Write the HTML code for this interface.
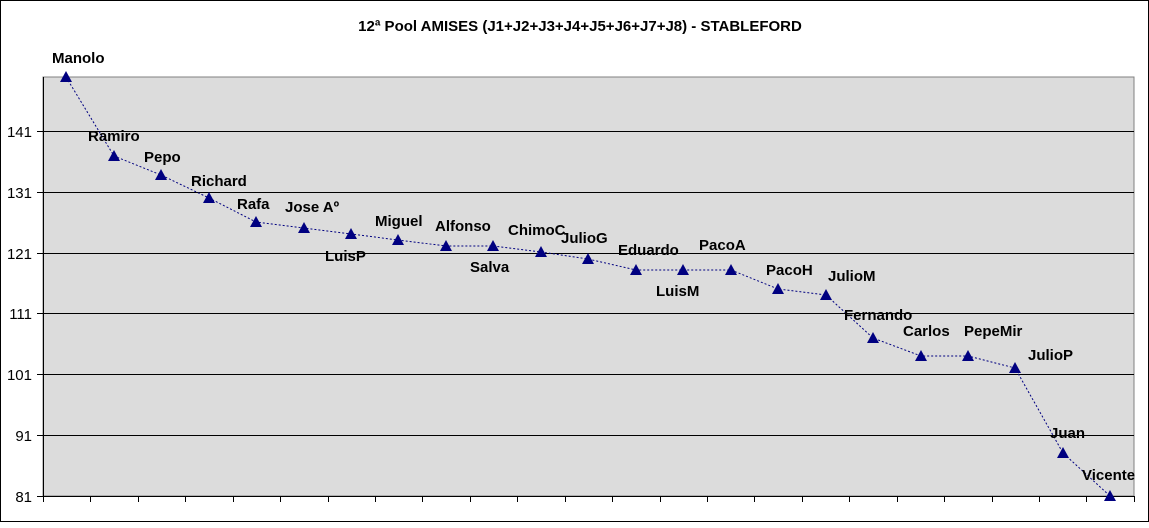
<!DOCTYPE html><html><head><style>body{margin:0}svg text{font-family:"Liberation Sans",Arial,sans-serif}</style></head><body>
<svg width="1149" height="523" xmlns="http://www.w3.org/2000/svg">
<rect x="0.5" y="0.5" width="1148" height="521" fill="#fff" stroke="#000"/>
<rect x="43" y="77" width="1091" height="419" fill="#dcdcdc" stroke="#808080"/>
<g stroke="#000" stroke-width="1">
<line x1="37" y1="131.5" x2="1134" y2="131.5"/><line x1="37" y1="192.5" x2="1134" y2="192.5"/><line x1="37" y1="253.5" x2="1134" y2="253.5"/><line x1="37" y1="313.5" x2="1134" y2="313.5"/><line x1="37" y1="374.5" x2="1134" y2="374.5"/><line x1="37" y1="435.5" x2="1134" y2="435.5"/><line x1="37" y1="496.5" x2="1134" y2="496.5"/>
<line x1="43.5" y1="77" x2="43.5" y2="496"/>
<path d="M43.5 496v6M90.5 496v6M138.5 496v6M185.5 496v6M233.5 496v6M280.5 496v6M328.5 496v6M375.5 496v6M422.5 496v6M470.5 496v6M517.5 496v6M565.5 496v6M612.5 496v6M660.5 496v6M707.5 496v6M754.5 496v6M802.5 496v6M849.5 496v6M897.5 496v6M944.5 496v6M992.5 496v6M1039.5 496v6M1086.5 496v6M1134.5 496v6"/>
</g>
<g font-size="15" text-anchor="end" fill="#000">
<text x="32" y="137">141</text><text x="32" y="198">131</text><text x="32" y="259">121</text><text x="32" y="319">111</text><text x="32" y="380">101</text><text x="32" y="441">91</text><text x="32" y="502">81</text>
</g>
<text x="580" y="31" font-size="15" font-weight="bold" text-anchor="middle">12ª Pool AMISES (J1+J2+J3+J4+J5+J6+J7+J8)  - STABLEFORD</text>
<polyline fill="none" stroke="#000080" stroke-dasharray="2,2" points="66,77 114,156 161,175 209,198 256,222 304,228 351,234 398,240 446,246 493,246 541,252 588,259 636,270 683,270 731,270 778,289 826,295 873,338 921,356 968,356 1015,368 1063,453 1110,496"/>
<g fill="#000080">
<polygon points="60,82 72,82 66,71"/><polygon points="108,161 120,161 114,150"/><polygon points="155,180 167,180 161,169"/><polygon points="203,203 215,203 209,192"/><polygon points="250,227 262,227 256,216"/><polygon points="298,233 310,233 304,222"/><polygon points="345,239 357,239 351,228"/><polygon points="392,245 404,245 398,234"/><polygon points="440,251 452,251 446,240"/><polygon points="487,251 499,251 493,240"/><polygon points="535,257 547,257 541,246"/><polygon points="582,264 594,264 588,253"/><polygon points="630,275 642,275 636,264"/><polygon points="677,275 689,275 683,264"/><polygon points="725,275 737,275 731,264"/><polygon points="772,294 784,294 778,283"/><polygon points="820,300 832,300 826,289"/><polygon points="867,343 879,343 873,332"/><polygon points="915,361 927,361 921,350"/><polygon points="962,361 974,361 968,350"/><polygon points="1009,373 1021,373 1015,362"/><polygon points="1057,458 1069,458 1063,447"/><polygon points="1104,501 1116,501 1110,490"/>
</g>
<g font-size="15" font-weight="bold">
<text x="52" y="63">Manolo</text><text x="88" y="141">Ramiro</text><text x="144" y="162">Pepo</text><text x="191" y="186">Richard</text><text x="237" y="209">Rafa</text><text x="285" y="212">Jose Aº</text><text x="325" y="261">LuisP</text><text x="375" y="226">Miguel</text><text x="435" y="231">Alfonso</text><text x="470" y="272">Salva</text><text x="508" y="235">ChimoC</text><text x="561" y="243">JulioG</text><text x="618" y="255">Eduardo</text><text x="656" y="296">LuisM</text><text x="699" y="250">PacoA</text><text x="766" y="275">PacoH</text><text x="828" y="281">JulioM</text><text x="844" y="320">Fernando</text><text x="903" y="336">Carlos</text><text x="964" y="336">PepeMir</text><text x="1028" y="360">JulioP</text><text x="1050" y="438">Juan</text><text x="1082" y="480">Vicente</text>
</g>
</svg></body></html>
